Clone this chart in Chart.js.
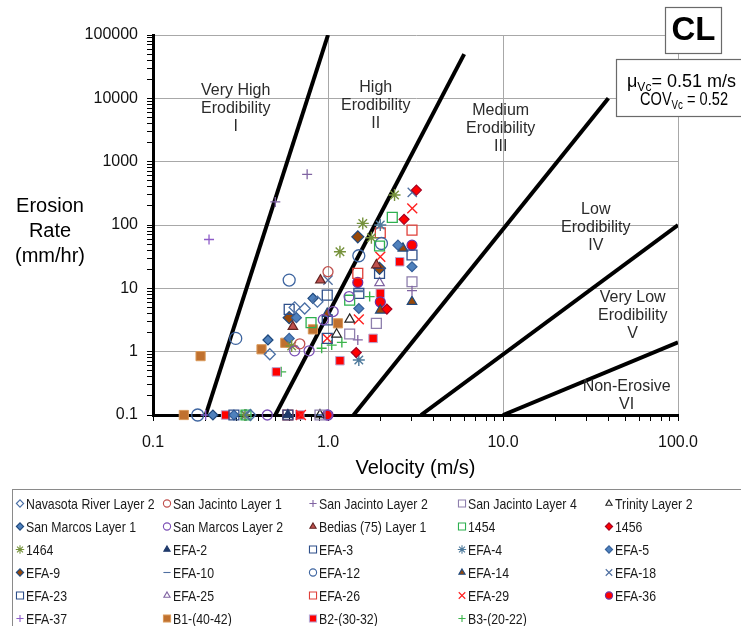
<!DOCTYPE html>
<html><head><meta charset="utf-8">
<script src="https://cdn.jsdelivr.net/npm/chart.js@4.4.1/dist/chart.umd.min.js"></script>
<style>html,body{margin:0;padding:0;background:#fff;overflow:hidden}canvas{display:block}</style>
</head><body>
<canvas id="c" width="741" height="626" style="width:741px;height:626px"></canvas>
<script>
// ---------------- DATA (velocity m/s, erosion rate mm/hr) ----------------
const xTickVals = [0.1, 1, 10, 100];
const xTickLabels = ['0.1', '1.0', '10.0', '100.0'];
const yTickVals = [0.1, 1, 10, 100, 1000, 10000, 100000];
const yTickLabels = ['0.1', '1', '10', '100', '1000', '10000', '100000'];

const seriesNames = ['Navasota River Layer 2','San Jacinto Layer 1','San Jacinto Layer 2','San Jacinto Layer 4','Trinity Layer 2',
  'San Marcos Layer 1','San Marcos Layer 2','Bedias (75) Layer 1','1454','1456',
  '1464','EFA-2','EFA-3','EFA-4','EFA-5',
  'EFA-9','EFA-10','EFA-12','EFA-14','EFA-18',
  'EFA-23','EFA-25','EFA-26','EFA-29','EFA-36',
  'EFA-37','B1-(40-42)','B2-(30-32)','B3-(20-22)'];

const navasota2 = [[0.87,6.15],[0.736,4.8],[0.645,5.0],[0.465,0.91],[0.36,0.1]];
const sanJacinto1 = [[1.0,18.3],[0.69,1.33]];
const sanJacinto2 = [[0.5,231],[0.76,631],[1.48,1.53],[3.02,9.2]];
const sanJacinto4 = [[1.33,1.9],[1.89,2.8],[3.02,12.7],[0.9,0.1]];
const trinity2 = [[1.33,3.24],[1.12,1.88],[0.9,0.1]];
const sanMarcos1 = [[0.82,6.95],[0.454,1.53],[0.22,0.1]];
const sanMarcos2 = [[1.07,4.3],[0.94,3.2],[0.645,1.03],[0.78,1.03],[1.32,7.4],[0.45,0.1],[0.99,0.1]];
const bedias1 = [[0.905,13.5],[0.63,2.48],[1.89,23.3]];
const s1454 = [[0.8,2.87],[2.33,132],[1.97,46.6],[1.33,6.5],[0.34,0.1]];
const s1456 = [[3.2,356],[2.72,123],[2.17,4.7],[1.45,0.97]];
const s1464 = [[1.17,37.8],[2.4,297],[1.58,106],[1.77,63],[0.62,1.23],[0.335,0.1]];
const efa2 = [[0.59,0.1]];
const efa3 = [[0.6,4.66],[0.99,7.8],[1.97,17.2],[3.02,33.6],[0.29,0.1]];
const efa4 = [[1.99,100],[1.5,0.74],[0.34,0.1]];
const efa5 = [[0.66,3.44],[0.6,1.62],[2.51,48],[3.02,21.9],[1.5,4.8],[0.29,0.1]];
const efa9 = [[0.6,3.44],[1.48,65],[1.97,20.7]];
const efa10 = [[1.5,9.0],[0.9,0.1]];
const efa12 = [[0.6,13.5],[0.297,1.62],[2.02,51],[1.5,32.7],[0.18,0.1]];
const efa14 = [[0.99,4.0],[1.99,4.5],[3.02,6.15],[2.68,42.8]];
const efa18 = [[3.03,328],[1.0,13.5]];
const efa23 = [[0.99,3.17],[1.5,8.3],[0.99,1.62],[0.59,0.1]];
const efa25 = [[1.97,12.2]];
const efa26 = [[1.99,75.5],[3.02,83],[1.48,17.2],[0.59,0.1]];
const efa29 = [[3.03,183],[1.99,31.5],[1.5,3.24],[0.99,1.62],[0.7,0.1]];
const efa36 = [[3.02,48],[1.48,12.4],[1.99,6.1],[1.0,0.1]];
const efa37 = [[0.209,59],[0.2,0.1]];
const b1 = [[0.82,2.25],[1.14,2.8],[0.57,1.38],[0.417,1.09],[0.187,0.85],[0.15,0.1]];
const b2 = [[2.57,26.3],[1.99,8.35],[1.81,1.62],[1.17,0.72],[0.507,0.48],[0.26,0.1],[0.69,0.1]];
const b3 = [[0.92,1.13],[1.05,1.27],[1.2,1.4],[0.54,0.48],[1.73,7.4],[0.29,0.1]];

// Erodibility category boundaries
const boundI = [[0.2,0.1],[1,100000]];
const boundII = [[0.5,0.1],[6,50000]];
const boundIII = [[1.4,0.1],[40,10000]];
const boundIV = [[3.4,0.1],[100,100]];
const boundV = [[10,0.1],[100,1.4]];

const seriesData = [navasota2,sanJacinto1,sanJacinto2,sanJacinto4,trinity2,sanMarcos1,sanMarcos2,bedias1,s1454,s1456,
  s1464,efa2,efa3,efa4,efa5,efa9,efa10,efa12,efa14,efa18,efa23,efa25,efa26,efa29,efa36,efa37,b1,b2,b3];
const boundaries = [boundI,boundII,boundIII,boundIV,boundV];

// ---------------- STYLES ----------------
const NONE = 'rgba(255,255,255,0)';
const seriesStyles = [
  ['rectRot',5.5,NONE,'#4A6FA5',1.3],
  ['circle',5,NONE,'#C0504D',1.3],
  ['cross',5,NONE,'#8064A2',1.3],
  ['rect',7,NONE,'#8E7FAD',1.3],
  ['triangle',5.5,NONE,'#222222',1.2],
  ['rectRot',5,'#4F81BD','#1F497D',1.2],
  ['circle',5,NONE,'#7B4FB5',1.3],
  ['triangle',5.5,'#C0504D','#632523',1.2],
  ['rect',7,NONE,'#2DB04F',1.3],
  ['rectRot',5,'#FF0000','#A50021',1.2],
  ['star',6,NONE,'#76923C',1.4],
  ['triangle',5.5,'#1F3A6B','#1F3A6B',1.2],
  ['rect',7,NONE,'#2E4F8A',1.3],
  ['star',6,NONE,'#4E7A9C',1.4],
  ['rectRot',5,'#4F81BD','#35609A',1.2],
  ['rectRot',6,'#984807','#1F497D',1.2],
  ['line',5,NONE,'#4F6FA0',2],
  ['circle',6,NONE,'#3E65A0',1.3],
  ['triangle',5.5,'#984807','#1F497D',1.2],
  ['crossRot',6.5,NONE,'#4F6FA0',1.3],
  ['rect',7,NONE,'#2E4F8A',1.3],
  ['triangle',5.5,NONE,'#8064A2',1.2],
  ['rect',7,NONE,'#E0403A',1.3],
  ['crossRot',7,NONE,'#FF2020',1.4],
  ['circle',5,'#FF0000','#7030A0',1.2],
  ['cross',5,NONE,'#8E5CC8',1.3],
  ['rect',6.5,'#C0712F','#D9995A',1],
  ['rect',6,'#FF0000','#B7A6D3',1],
  ['cross',5,NONE,'#3CB44B',1.4]
];

const regionLabels = [
  {lines:['Very High','Erodibility','I'], v:0.297, e:6770},
  {lines:['High','Erodibility','II'], v:1.874, e:7570},
  {lines:['Medium','Erodibility','III'], v:9.7, e:3270},
  {lines:['Low','Erodibility','IV'], v:33.9, e:89.6},
  {lines:['Very Low','Erodibility','V'], v:55.1, e:3.66},
  {lines:['Non-Erosive','VI'], v:50.9, e:0.205}
];

const FONT = '"Liberation Sans", Arial, sans-serif';

function logTicks(min, max) {
  const out = [];
  const d0 = Math.round(Math.log10(min)), d1 = Math.round(Math.log10(max));
  for (let d = d0; d < d1; d++) for (let k = 1; k <= 9; k++) out.push(parseFloat((k * Math.pow(10, d)).toPrecision(6)));
  out.push(max);
  return out;
}
function majorIndex(v, arr) { return arr.findIndex(t => Math.abs(v / t - 1) < 1e-6); }

const datasets = [];
seriesData.forEach((pts, i) => {
  const s = seriesStyles[i];
  datasets.push({
    label: seriesNames[i],
    data: pts.map(p => ({x: p[0], y: p[1]})),
    showLine: false, clip: false, order: 0,
    pointStyle: s[0], pointRadius: s[1], pointBackgroundColor: s[2], pointBorderColor: s[3], pointBorderWidth: s[4],
    backgroundColor: s[2], borderColor: s[3]
  });
});
boundaries.forEach((b, i) => {
  datasets.push({
    label: 'boundary' + (i + 1),
    data: b.map(p => ({x: p[0], y: p[1]})),
    showLine: true, borderColor: '#000', borderWidth: 4, pointRadius: 0, order: 5, fill: false
  });
});

function drawSym(ctx, st, x, y, r) {
  ctx.save();
  ctx.fillStyle = st[2]; ctx.strokeStyle = st[3]; ctx.lineWidth = 1.1;
  if (window.Chart && Chart.helpers && Chart.helpers.drawPoint) {
    Chart.helpers.drawPoint(ctx, {pointStyle: st[0], radius: r, borderWidth: 1.1, rotation: 0}, x, y);
  } else {
    ctx.beginPath(); ctx.arc(x, y, r, 0, Math.PI * 2); ctx.fill(); ctx.stroke();
  }
  ctx.restore();
}

const decor = {
  id: 'decor',
  afterDraw(chart) {
    const ctx = chart.ctx, xs = chart.scales.x, ys = chart.scales.y;
    ctx.save();
    // region labels
    ctx.font = '16px ' + FONT; ctx.fillStyle = '#2b2b2b'; ctx.textAlign = 'center'; ctx.textBaseline = 'middle';
    regionLabels.forEach(l => {
      const cx = xs.getPixelForValue(l.v), cy = ys.getPixelForValue(l.e), n = l.lines.length;
      l.lines.forEach((t, i) => ctx.fillText(t, cx, cy + (i - (n - 1) / 2) * 18));
    });
    // axis titles
    ctx.fillStyle = '#000'; ctx.font = '20px ' + FONT;
    ['Erosion', 'Rate', '(mm/hr)'].forEach((t, i) => ctx.fillText(t, 50, 206 + i * 25));
    ctx.fillText('Velocity (m/s)', (chart.chartArea.left + chart.chartArea.right) / 2, 468);
    // CL box
    ctx.fillStyle = '#fff'; ctx.fillRect(665, 7, 56, 46);
    ctx.strokeStyle = '#6a6a6a'; ctx.lineWidth = 1.2; ctx.strokeRect(665.5, 7.5, 56, 46);
    ctx.fillStyle = '#000'; ctx.font = 'bold 33px ' + FONT; ctx.fillText('CL', 693.5, 31);
    // stats box
    ctx.fillStyle = '#fff'; ctx.fillRect(616, 59, 140, 57);
    ctx.strokeRect(616.5, 59.5, 140, 57);
    ctx.fillStyle = '#000'; ctx.textAlign = 'left'; ctx.textBaseline = 'alphabetic';
    const drawRich = (parts, x, y, targetW) => {
      let w = 0;
      parts.forEach(p => { ctx.font = (p[1] ? '12px ' : '18px ') + FONT; w += ctx.measureText(p[0]).width; });
      const sx = targetW ? Math.min(1, targetW / w) : 1;
      ctx.save(); ctx.translate(x, y); ctx.scale(sx, 1);
      let px = 0;
      parts.forEach(p => {
        ctx.font = (p[1] ? '12px ' : '18px ') + FONT;
        ctx.fillText(p[0], px, p[1] ? 4 : 0);
        px += ctx.measureText(p[0]).width;
      });
      ctx.restore();
    };
    drawRich([['μ', 0], ['Vc', 1], ['= 0.51 m/s', 0]], 627, 87, 111);
    drawRich([['COV', 0], ['Vc', 1], [' = 0.52', 0]], 640, 105, 88);
    // legend
    ctx.strokeStyle = '#8a8a8a'; ctx.lineWidth = 1; ctx.strokeRect(12.5, 489.5, 760, 160);
    const cols = [20, 167, 313, 462, 609];
    ctx.textBaseline = 'middle';
    seriesNames.forEach((name, i) => {
      const cx = cols[i % 5], cy = 503.5 + Math.floor(i / 5) * 23;
      const st = seriesStyles[i];
      const r = st[0] === 'rect' ? 5 : (st[0] === 'crossRot' ? 4.6 : (st[0] === 'star' ? 4.2 : 3.6));
      drawSym(ctx, st, cx, cy, r);
      ctx.save();
      ctx.translate(cx + 6, cy + 1);
      ctx.scale(0.82, 1);
      ctx.font = '15px ' + FONT; ctx.fillStyle = '#1a1a1a'; ctx.textAlign = 'left';
      ctx.fillText(name, 0, 0);
      ctx.restore();
    });
    ctx.restore();
  }
};

function axisCfg(min, max, vals, labels, isX) {
  return {
    type: 'logarithmic', position: isX ? 'bottom' : 'left', min: min, max: max,
    afterBuildTicks: s => { s.ticks = logTicks(min, max).map(v => ({value: v})); },
    afterFit: s => { if (isX) s.height = 211; else s.width = 153; },
    ticks: {
      autoSkip: false, maxRotation: 0, minRotation: 0, padding: isX ? 12 : 9, color: '#111',
      font: {family: FONT, size: 16},
      callback: v => { const k = majorIndex(v, vals); return k >= 0 ? labels[k] : ''; }
    },
    grid: {
      color: c => (c.tick && majorIndex(c.tick.value, vals) >= 0) ? '#a8a8a8' : 'rgba(0,0,0,0)',
      lineWidth: 1, tickColor: '#000',
      tickLength: 6, drawTicks: true
    },
    border: {display: true, color: '#000', width: 3}
  };
}

new Chart(document.getElementById('c').getContext('2d'), {
  type: 'scatter',
  data: {datasets},
  options: {
    responsive: false, animation: false, devicePixelRatio: 1, events: [],
    layout: {padding: {top: 35, right: 63, left: 0, bottom: 0}},
    plugins: {legend: {display: false}, tooltip: {enabled: false}, title: {display: false}},
    scales: {
      x: axisCfg(0.1, 100, xTickVals, xTickLabels, true),
      y: axisCfg(0.1, 100000, yTickVals, yTickLabels, false)
    }
  },
  plugins: [decor]
});
</script>
</body></html>
